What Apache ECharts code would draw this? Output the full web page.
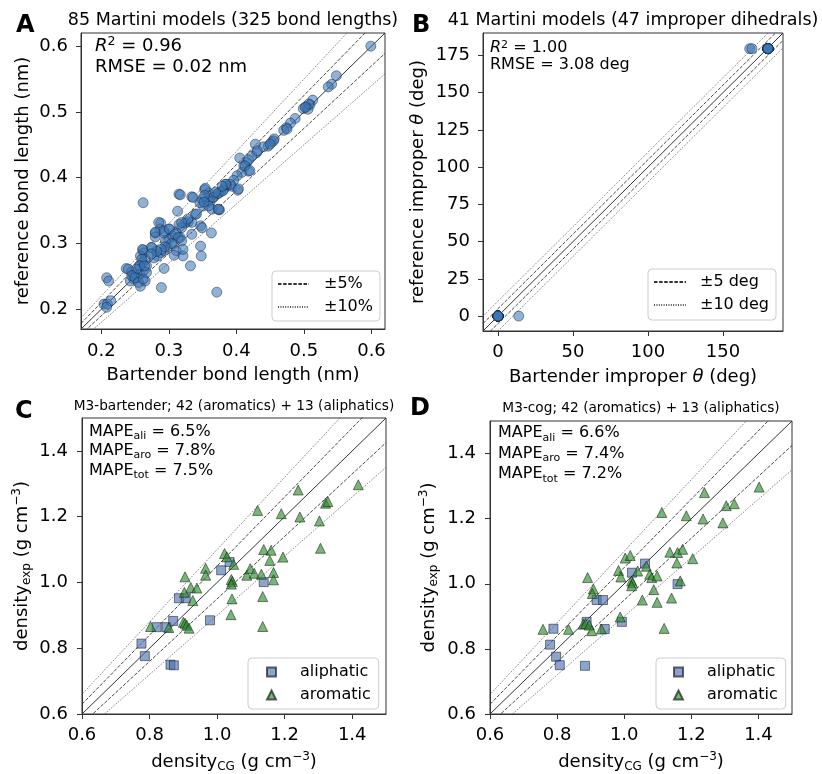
<!DOCTYPE html>
<html><head><meta charset="utf-8">
<script src="https://cdn.jsdelivr.net/npm/echarts@6/dist/echarts.min.js"></script>
<style>html,body{margin:0;padding:0;background:#fff}#c{width:822px;height:774px}</style>
</head><body><div id="c"></div>
<script>
const FONT = 'DejaVu Sans';

// ---- tick labels / ranges ----
const aTicks = [0.2, 0.3, 0.4, 0.5, 0.6];
const bTicksX = [0, 50, 100, 150];
const bTicksY = [0, 25, 50, 75, 100, 125, 150, 175];
const cdTicks = [0.6, 0.8, 1.0, 1.2, 1.4];
const aRange = [0.17, 0.62];
const bRange = [-10, 190];
const cdRange = [0.6, 1.5];
const pctFactors = [1, 1.05, 0.95, 1.1, 0.9];
const degOffsets = [0, 5, -5, 10, -10];

// ---- panel A: Bartender vs reference bond length (nm) ----
const aPoints = [
[0.599,0.600],[0.548,0.555],[0.541,0.542],[0.536,0.538],[0.513,0.518],[0.509,0.511],[0.503,0.508],[0.499,0.505],[0.506,0.504],[0.487,0.490],
[0.480,0.483],[0.474,0.476],[0.470,0.472],[0.456,0.459],[0.452,0.454],[0.447,0.448],[0.440,0.447],[0.428,0.451],[0.430,0.438],[0.423,0.433],
[0.415,0.423],[0.411,0.418],[0.405,0.430],[0.418,0.410],[0.408,0.408],[0.401,0.403],[0.396,0.396],[0.393,0.387],[0.402,0.381],[0.386,0.387],
[0.381,0.382],[0.376,0.378],[0.371,0.375],[0.366,0.370],[0.361,0.363],[0.359,0.377],[0.353,0.382],[0.349,0.367],[0.375,0.351],[0.364,0.352],
[0.351,0.357],[0.334,0.371],[0.315,0.375],[0.313,0.349],[0.262,0.362],[0.339,0.344],[0.329,0.333],[0.334,0.332],[0.324,0.331],[0.319,0.324],
[0.315,0.329],[0.311,0.316],[0.305,0.311],[0.300,0.306],[0.295,0.304],[0.300,0.322],[0.288,0.331],[0.287,0.322],[0.280,0.316],[0.280,0.310],
[0.293,0.316],[0.347,0.327],[0.349,0.324],[0.363,0.316],[0.334,0.314],[0.317,0.309],[0.307,0.299],[0.297,0.294],[0.293,0.289],[0.288,0.286],
[0.283,0.281],[0.278,0.278],[0.275,0.294],[0.311,0.289],[0.321,0.281],[0.347,0.296],[0.348,0.281],[0.332,0.266],[0.293,0.262],[0.289,0.233],
[0.262,0.290],[0.263,0.286],[0.258,0.281],[0.265,0.276],[0.261,0.271],[0.256,0.266],[0.267,0.266],[0.262,0.258],[0.257,0.253],[0.253,0.248],
[0.248,0.246],[0.243,0.243],[0.237,0.262],[0.245,0.257],[0.258,0.235],[0.265,0.243],[0.248,0.252],[0.371,0.226],[0.208,0.248],[0.211,0.243],
[0.204,0.208],[0.209,0.208],[0.214,0.213],[0.208,0.203],
[0.346,0.362],[0.358,0.365],[0.365,0.370],[0.373,0.376],[0.380,0.380],[0.385,0.390],[0.373,0.352],[0.341,0.345],[0.328,0.337],[0.319,0.332],
[0.285,0.332],[0.280,0.317],[0.293,0.319],[0.301,0.322],[0.309,0.314],[0.314,0.309],[0.319,0.304],[0.304,0.300],[0.294,0.295],[0.289,0.291],
[0.282,0.288],[0.274,0.294],[0.261,0.291],[0.260,0.276],[0.257,0.266],[0.252,0.261],[0.240,0.261],[0.245,0.251],[0.250,0.248],[0.255,0.241],
[0.262,0.246],[0.267,0.256],[0.264,0.266],[0.274,0.284],[0.308,0.282],[0.321,0.291],
[0.507,0.512],[0.502,0.507],[0.475,0.474],[0.455,0.456],[0.450,0.451],[0.431,0.441],[0.418,0.427],[0.413,0.418],[0.420,0.411],[0.391,0.390],
[0.403,0.383],[0.384,0.390],[0.379,0.387],[0.369,0.378],[0.354,0.384],[0.353,0.373],[0.336,0.370],[0.317,0.374],[0.374,0.352],[0.359,0.357],
[0.352,0.363]
];

// ---- panel B: improper dihedral (deg) ----
const bPoints = [
[0,0],[0,0],[0,0],[0,0],[0,0],[0,0],[0,0],[0,0],[0,0],[0,0],[0,0],[0,0],[0,0],[0,0],[0,0],[0,0],[0,0],[0,0],[0,0],[0,0],[0,0],
[13.8,0],[167.8,179.5],[169.3,179.5],
[180,179.5],[180,179.5],[180,179.5],[180,179.5],[180,179.5],[180,179.5],[180,179.5],[180,179.5],[180,179.5],[180,179.5],[180,179.5],[180,179.5],
[180,179.5],[180,179.5],[180,179.5],[180,179.5],[180,179.5],[180,179.5],[180,179.5],[180,179.5],[180,179.5],[180,179.5],[180,179.5]
];

// ---- panel C: M3-bartender densities ----
const cAliphatic = [[0.776,0.814],[0.786,0.776],[0.821,0.864],[0.850,0.864],[0.870,0.883],[0.862,0.750],[0.872,0.748],[0.887,0.952],[0.907,0.952],[0.979,0.885],[1.012,1.037],[1.037,1.062],[1.138,1.001]];
const cAromatic = [[0.803,0.866],[0.857,0.863],[0.905,1.017],[0.903,0.970],[0.900,0.879],[0.905,0.876],[0.910,0.870],[0.917,0.861],[0.922,0.985],[0.928,0.945],[0.940,0.983],[0.966,1.043],[0.966,1.022],[1.022,1.088],[1.029,1.078],[1.049,1.055],[1.042,1.009],[1.045,1.003],[1.042,0.995],[1.044,0.950],[1.041,0.902],[1.088,1.022],[1.098,1.042],[1.110,1.028],[1.131,1.025],[1.135,0.957],[1.135,0.866],[1.138,1.100],[1.120,1.219],[1.156,1.067],[1.160,1.098],[1.167,1.030],[1.167,1.008],[1.195,1.077],[1.190,1.209],[1.240,1.281],[1.245,1.199],[1.303,1.187],[1.306,1.104],[1.321,1.241],[1.328,1.246],[1.418,1.297]];

// ---- panel D: M3-cog densities ----
const dAliphatic = [[0.789,0.862],[0.779,0.813],[0.797,0.776],[0.808,0.750],[0.883,0.748],[0.888,0.883],[0.918,0.950],[0.937,0.950],[0.942,0.861],[0.993,0.883],[1.023,1.034],[1.062,1.062],[1.159,0.999]];
const dAromatic = [[0.758,0.860],[0.834,0.860],[0.878,0.876],[0.885,0.878],[0.891,1.019],[0.908,0.984],[0.905,0.970],[0.896,0.873],[0.903,0.856],[0.932,0.861],[0.988,0.898],[0.983,1.041],[0.990,1.021],[1.003,1.079],[1.018,1.087],[1.022,1.009],[1.025,1.003],[1.022,0.994],[1.040,1.039],[1.066,1.054],[1.054,0.950],[1.076,1.029],[1.082,1.019],[1.098,1.024],[1.088,0.982],[1.098,0.943],[1.119,0.863],[1.141,0.956],[1.136,1.097],[1.112,1.219],[1.159,1.096],[1.157,1.064],[1.174,1.106],[1.167,1.009],[1.204,1.077],[1.185,1.209],[1.239,1.280],[1.235,1.199],[1.294,1.187],[1.304,1.240],[1.328,1.246],[1.402,1.297]];

// ---- styling helpers ----
const INK = '#000';
const SPINE = '#333';
const richLabel = {
  sub: {fontSize: 12, fontFamily: FONT, color: INK, verticalAlign: 'bottom', lineHeight: 12},
  sup: {fontSize: 12, fontFamily: FONT, color: INK, verticalAlign: 'top', lineHeight: 12},
  i: {fontSize: 18, fontFamily: FONT, color: INK, fontStyle: 'italic'}
};
function axis(gi, range, ticks, fmt, name, gap, isY, labelMargin) {
  return {
    type: 'value', gridIndex: gi, min: range[0], max: range[1],
    name: name, nameLocation: 'middle', nameGap: gap,
    nameTextStyle: {fontSize: 18, fontFamily: FONT, color: INK, lineHeight: 22, rich: richLabel},
    axisLine: {show: true, onZero: false, lineStyle: {color: SPINE, width: 1}},
    axisTick: {show: true, inside: false, length: 5, customValues: ticks, lineStyle: {color: SPINE, width: 1}},
    axisLabel: {show: true, customValues: ticks, formatter: fmt, margin: labelMargin,
      fontSize: 18, fontFamily: FONT, color: INK},
    splitLine: {show: false}
  };
}
const f1 = v => Number(v).toFixed(1);
const f0 = v => String(Math.round(v));

const lineStyles = [
  {color: '#333', width: 1, type: 'solid'},
  {color: '#333', width: 0.9, type: [3.5, 1.6]},
  {color: '#333', width: 0.9, type: [3.5, 1.6]},
  {color: '#555', width: 0.9, type: [1, 1.4]},
  {color: '#555', width: 0.9, type: [1, 1.4]}
];
function refSeries(gi, range, vals, isOffset, names) {
  return vals.map((v, k) => ({
    type: 'line', name: names[k], xAxisIndex: gi, yAxisIndex: gi,
    data: isOffset ? [[range[0], range[0] + v], [range[1], range[1] + v]]
                   : [[range[0], range[0] * v], [range[1], range[1] * v]],
    symbol: 'none', showSymbol: false, silent: true, clip: true, z: 1,
    itemStyle: {color: lineStyles[k].color},
    lineStyle: lineStyles[k], animation: false
  }));
}
const blueDot = {color: 'rgba(58,117,181,0.7)', borderColor: 'rgba(20,35,60,0.75)', borderWidth: 0.8};
const blueSq = {color: 'rgba(76,114,176,0.8)', borderColor: 'rgba(20,25,40,0.85)', borderWidth: 0.8};
const greenTri = {color: 'rgba(46,139,46,0.8)', borderColor: 'rgba(15,30,15,0.85)', borderWidth: 0.8};

const legendBase = {
  orient: 'vertical', selectedMode: false, itemGap: 7,
  backgroundColor: 'rgba(255,255,255,0.8)', borderColor: '#ccc', borderWidth: 1, borderRadius: 4
};
function legendText(padLeft) {
  return {fontSize: 16, fontFamily: FONT, color: INK, padding: [0, 0, 0, padLeft]};
}

const option = {
  backgroundColor: '#fff',
  animation: false,
  grid: [
    {left: 81, top: 33, width: 304, height: 296, show: true, borderColor: SPINE, borderWidth: 1, backgroundColor: 'transparent'},
    {left: 483, top: 33, width: 300, height: 298, show: true, borderColor: SPINE, borderWidth: 1, backgroundColor: 'transparent'},
    {left: 82, top: 418, width: 304, height: 301, show: true, borderColor: SPINE, borderWidth: 1, backgroundColor: 'transparent'},
    {left: 490, top: 421, width: 302, height: 298, show: true, borderColor: SPINE, borderWidth: 1, backgroundColor: 'transparent'}
  ],
  xAxis: [
    axis(0, aRange, aTicks, f1, 'Bartender bond length (nm)', 35, false, 13),
    axis(1, bRange, bTicksX, f0, 'Bartender improper {i|θ} (deg)', 35, false, 12),
    axis(2, cdRange, cdTicks, f1, 'density{sub|CG} (g cm{sup|−3})', 37, false, 12),
    axis(3, cdRange, cdTicks, f1, 'density{sub|CG} (g cm{sup|−3})', 37, false, 12)
  ],
  yAxis: [
    axis(0, aRange, aTicks, f1, 'reference bond length (nm)', 47, true, 13),
    axis(1, bRange, bTicksY, f0, 'reference improper {i|θ} (deg)', 54, true, 13),
    axis(2, cdRange, cdTicks, f1, 'density{sub|exp} (g cm{sup|−3})', 49, true, 14),
    axis(3, cdRange, cdTicks, f1, 'density{sub|exp} (g cm{sup|−3})', 50, true, 14)
  ],
  legend: [
    Object.assign({}, legendBase, {left: 272, top: 271, data: ['±5%', '±10%'], itemWidth: 31, itemHeight: 10,
      itemStyle: {opacity: 0}, padding: [5, 7, 6, 5], textStyle: legendText(10)}),
    Object.assign({}, legendBase, {left: 648, top: 269, data: ['±5 deg', '±10 deg'], itemWidth: 32, itemHeight: 10,
      itemStyle: {opacity: 0}, padding: [5, 7, 7, 5], textStyle: legendText(9)}),
    Object.assign({}, legendBase, {left: 248, top: 658, data: ['aliphatic', 'aromatic'], itemWidth: 9, itemHeight: 9,
      padding: [6, 8, 6, 18], textStyle: legendText(19)}),
    Object.assign({}, legendBase, {left: 656, top: 658, data: ['aliphatic', 'aromatic'], itemWidth: 9, itemHeight: 9,
      padding: [6, 8, 6, 17], textStyle: legendText(19)})
  ],
  series: [].concat(
    refSeries(0, aRange, pctFactors, false, ['A-ref', '±5%', '±5%', '±10%', '±10%']),
    refSeries(1, bRange, degOffsets, true, ['B-ref', '±5 deg', '±5 deg', '±10 deg', '±10 deg']),
    refSeries(2, cdRange, pctFactors, false, ['C-ref', 'C-5', 'C-5', 'C-10', 'C-10']),
    refSeries(3, cdRange, pctFactors, false, ['D-ref', 'D-5', 'D-5', 'D-10', 'D-10']),
    [
      {type: 'scatter', name: 'bonds', xAxisIndex: 0, yAxisIndex: 0, data: aPoints, symbol: 'circle', symbolSize: 10, itemStyle: blueDot, z: 3},
      {type: 'scatter', name: 'impropers', xAxisIndex: 1, yAxisIndex: 1, data: bPoints, symbol: 'circle', symbolSize: 10, itemStyle: blueDot, z: 3},
      {type: 'scatter', name: 'aliphatic', xAxisIndex: 2, yAxisIndex: 2, data: cAliphatic, symbol: 'rect', symbolSize: 9, itemStyle: blueSq, z: 3},
      {type: 'scatter', name: 'aromatic', xAxisIndex: 2, yAxisIndex: 2, data: cAromatic, symbol: 'triangle', symbolSize: 10, itemStyle: greenTri, z: 3},
      {type: 'scatter', name: 'aliphatic', xAxisIndex: 3, yAxisIndex: 3, data: dAliphatic, symbol: 'rect', symbolSize: 9, itemStyle: blueSq, z: 3},
      {type: 'scatter', name: 'aromatic', xAxisIndex: 3, yAxisIndex: 3, data: dAromatic, symbol: 'triangle', symbolSize: 10, itemStyle: greenTri, z: 3}
    ]
  ),
  graphic: [
    // panel letters
    {type: 'text', x: 16, y: 26, style: {text: 'A', fontSize: 24, fontWeight: 'bold', fontFamily: FONT, fill: INK, verticalAlign: 'middle'}},
    {type: 'text', x: 412, y: 26, style: {text: 'B', fontSize: 24, fontWeight: 'bold', fontFamily: FONT, fill: INK, verticalAlign: 'middle'}},
    {type: 'text', x: 15, y: 412, style: {text: 'C', fontSize: 24, fontWeight: 'bold', fontFamily: FONT, fill: INK, verticalAlign: 'middle'}},
    {type: 'text', x: 410, y: 409, style: {text: 'D', fontSize: 24, fontWeight: 'bold', fontFamily: FONT, fill: INK, verticalAlign: 'middle'}},
    // titles
    {type: 'text', x: 233, y: 20, style: {text: '85 Martini models (325 bond lengths)', fontSize: 17.5, fontFamily: FONT, fill: INK, align: 'center', verticalAlign: 'middle'}},
    {type: 'text', x: 633, y: 20, style: {text: '41 Martini models (47 improper dihedrals)', fontSize: 17.5, fontFamily: FONT, fill: INK, align: 'center', verticalAlign: 'middle'}},
    {type: 'text', x: 234, y: 406, style: {text: 'M3-bartender; 42 (aromatics) + 13 (aliphatics)', fontSize: 13.7, fontFamily: FONT, fill: INK, align: 'center', verticalAlign: 'middle'}},
    {type: 'text', x: 641, y: 408, style: {text: 'M3-cog; 42 (aromatics) + 13 (aliphatics)', fontSize: 13.7, fontFamily: FONT, fill: INK, align: 'center', verticalAlign: 'middle'}},
    // annotations
    {type: 'text', x: 95, y: 35.5, style: {text: '{i|R}{sup|2} = 0.96\nRMSE = 0.02 nm', fontSize: 18, lineHeight: 21, fontFamily: FONT, fill: INK, verticalAlign: 'top',
      rich: {i: {fontSize: 18, fontStyle: 'italic', fontFamily: FONT, fill: INK, lineHeight: 21}, sup: {fontSize: 12.5, fontFamily: FONT, fill: INK, verticalAlign: 'top', lineHeight: 12}}}},
    {type: 'text', x: 490, y: 39.5, style: {text: '{i|R}{sup|2} = 1.00\nRMSE = 3.08 deg', fontSize: 16, lineHeight: 16.7, fontFamily: FONT, fill: INK, verticalAlign: 'top',
      rich: {i: {fontSize: 16, fontStyle: 'italic', fontFamily: FONT, fill: INK, lineHeight: 16.7}, sup: {fontSize: 11, fontFamily: FONT, fill: INK, verticalAlign: 'top', lineHeight: 11}}}},
    {type: 'text', x: 89, y: 422, style: {text: 'MAPE{s|ali} = 6.5%\nMAPE{s|aro} = 7.8%\nMAPE{s|tot} = 7.5%', fontSize: 16, lineHeight: 19.5, fontFamily: FONT, fill: INK, verticalAlign: 'top',
      rich: {s: {fontSize: 11, fontFamily: FONT, fill: INK, verticalAlign: 'bottom', lineHeight: 11}}}},
    {type: 'text', x: 498, y: 423, style: {text: 'MAPE{s|ali} = 6.6%\nMAPE{s|aro} = 7.4%\nMAPE{s|tot} = 7.2%', fontSize: 16, lineHeight: 20.5, fontFamily: FONT, fill: INK, verticalAlign: 'top',
      rich: {s: {fontSize: 11, fontFamily: FONT, fill: INK, verticalAlign: 'bottom', lineHeight: 11}}}}
  ]
};

const chart = echarts.init(document.getElementById('c'), null, {renderer: 'canvas'});
chart.setOption(option);
</script>
</body></html>
